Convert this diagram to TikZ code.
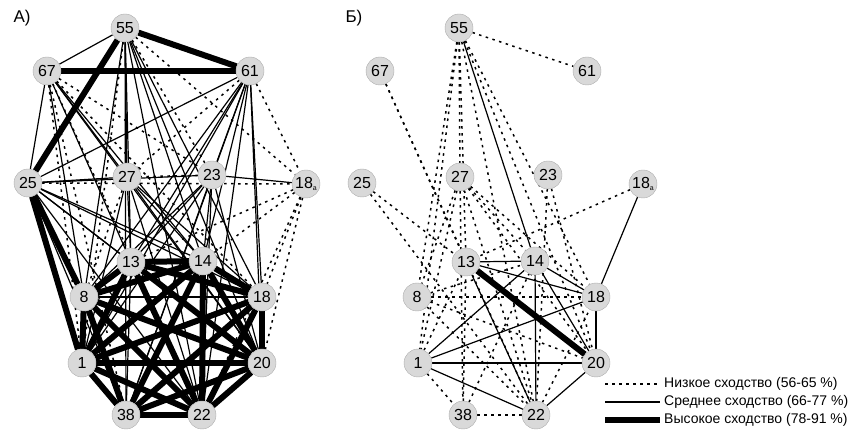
\documentclass[tikz,border=0pt]{standalone}
\usepackage{fontspec}
\setmainfont{Liberation Sans}
\usetikzlibrary{backgrounds}

\tikzset{
  vert/.style={circle,draw=gray!65,fill=gray!30,minimum size=28pt,inner sep=0pt,
    font=\fontsize{16}{16}\selectfont},
  low/.style={line width=1.5pt,dash pattern=on 2.5pt off 4.5pt},
  mid/.style={line width=1.2pt},
  high/.style={line width=6pt},
  panel/.style={font=\fontsize{17}{17}\selectfont},
  legtext/.style={anchor=west,inner sep=0pt,font=\fontsize{14}{14}\selectfont}
}

\begin{document}
\begin{tikzpicture}[x=1pt,y=-1pt]
  \useasboundingbox (0,0) rectangle (852,430);
  % Panel labels
  \node[panel] (labA) at (22,18) {A)};
  \node[panel] (labB) at (354,18) {Б)};
  % Nodes, panel A
  \foreach \n/\x/\y in {55/125/28,67/47/71,61/250/71,25/28/183,27/127/177,23/212/175,
      13/131/262,14/203/261,8/84/297,18/262/297,1/82/363,20/262/363,38/126/415,22/202/415}
    \node[vert] (A\n) at (\x,\y) {\n};
  \node[vert] (A18a) at (306,184) {18\raisebox{-2pt}{\fontsize{7}{7}\selectfont a}};
  % Nodes, panel B
  \foreach \n/\x/\y in {55/459/28,67/380/71,61/587/71,25/362/183,27/460/177,23/548/175,
      13/466/262,14/535/261,8/417/297,18/596/297,1/418/363,20/596/363,38/463/415,22/536/415}
    \node[vert] (B\n) at (\x,\y) {\n};
  \node[vert] (B18a) at (643,184) {18\raisebox{-2pt}{\fontsize{7}{7}\selectfont a}};

  \begin{scope}[on background layer]
    % Panel A: low
    \foreach \a/\b in {61/18a,18a/20,18a/18,18a/14,18a/13,18a/22,55/23,67/23,67/18,67/1,
        67/38,55/1,61/27,23/27,27/8,25/18a,55/18a,67/22}
      \draw[low] (A\a) -- (A\b);
    % Panel A: medium
    \foreach \a/\b in {55/67,55/27,55/13,55/14,55/8,55/18,55/20,55/22,55/38,
        61/25,61/23,61/13,61/14,61/8,61/18,61/20,61/1,61/22,61/38,
        67/25,67/8,67/27,67/13,67/14,67/20,
        25/27,25/23,25/13,25/14,25/18,25/20,25/22,25/38,
        27/13,27/14,27/18,27/20,27/22,27/1,
        23/18a,23/13,23/14,23/8,23/1,23/20,23/22,23/38,8/18,13/38}
      \draw[mid] (A\a) -- (A\b);
    % Panel A: high
    \foreach \a/\b in {55/61,67/61,55/25,25/8,25/1,
        13/14,13/8,13/18,13/1,13/20,13/22,14/8,14/18,14/1,14/20,14/38,14/22,
        8/1,8/20,8/38,8/22,18/1,18/20,18/38,18/22,1/20,1/38,1/22,20/38,20/22,38/22}
      \draw[high] (A\a) -- (A\b);

    % Panel B: low
    \foreach \a/\b in {55/61,55/13,55/1,55/8,55/20,55/22,55/18,55/27,
        67/13,67/22,25/22,25/20,27/1,27/8,27/22,27/20,27/18,27/38,27/14,
        23/20,23/22,18a/13,1/38,38/22,8/20,8/22,8/18,8/14,1/13,38/13,38/14,22/18}
      \draw[low] (B\a) -- (B\b);
    % Panel B: medium
    \foreach \a/\b in {55/14,18a/18,13/14,13/18,14/18,14/20,14/22,13/22,
        1/14,1/18,1/20,1/22,18/20,20/22}
      \draw[mid] (B\a) -- (B\b);
    % Panel B: high
    \draw[high] (B13) -- (B20);
  \end{scope}

  % Legend
  \coordinate (l1a) at (605,384);
  \coordinate (l1b) at (660,384);
  \coordinate (l2a) at (605,402);
  \coordinate (l2b) at (660,402);
  \coordinate (l3a) at (605,420);
  \coordinate (l3b) at (660,420);
  \draw[low] (l1a) -- (l1b);
  \draw[mid] (l2a) -- (l2b);
  \draw[high] (l3a) -- (l3b);
  \node[legtext] (t1) at (664,384) {Низкое сходство (56-65 \%)};
  \node[legtext] (t2) at (664,402) {Среднее сходство (66-77 \%)};
  \node[legtext] (t3) at (664,420) {Высокое сходство (78-91 \%)};
\end{tikzpicture}
\end{document}
